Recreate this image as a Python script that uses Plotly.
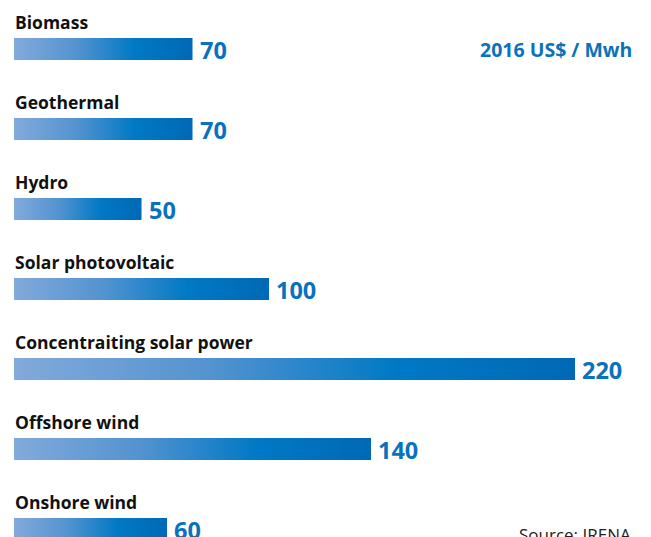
import plotly.graph_objects as go

categories = ["Biomass", "Geothermal", "Hydro", "Solar photovoltaic",
              "Concentraiting solar power", "Offshore wind", "Onshore wind"]
values = [70, 70, 50, 100, 220, 140, 60]
unit_label = "2016 US$ / Mwh"
source_label = "Source: IRENA"

BLUE = "#0a72bc"
grad = [[0, "#82aadb"], [0.35, "#5393d0"], [0.68, "#0079c4"], [1, "#0069b5"]]
half = 0.1375
FONT = "Open Sans"

fig = go.Figure()
for i, (c, v) in enumerate(zip(categories, values)):
    fig.add_trace(go.Scatter(
        x=[0, v, v, 0, 0],
        y=[i - half, i - half, i + half, i + half, i - half],
        mode="lines", fill="toself", line=dict(width=0),
        fillgradient=dict(type="horizontal", colorscale=grad),
        hoverinfo="skip", showlegend=False))
    fig.add_annotation(x=0, y=i - 0.34, text=f"<b>{c}</b>", showarrow=False,
                       xanchor="left", yanchor="middle", xshift=-1,
                       font=dict(family=FONT, size=17.5, color="#111111"))
    fig.add_annotation(x=v, y=i, text=f"<b>{v}</b>", showarrow=False,
                       xanchor="left", yanchor="middle", xshift=5, yshift=-1,
                       font=dict(family=FONT, size=23.5, color=BLUE))

fig.add_annotation(xref="paper", yref="paper", x=0.974, y=0.907,
                   text=f"<b>{unit_label}</b>", showarrow=False,
                   xanchor="right", yanchor="middle",
                   font=dict(family=FONT, size=19.5, color=BLUE))
fig.add_annotation(xref="paper", yref="paper", x=0.972, y=0.004,
                   text=source_label, showarrow=False,
                   xanchor="right", yanchor="middle",
                   font=dict(family=FONT, size=17, color="#222222"))

fig.update_layout(
    width=651, height=537, margin=dict(l=0, r=0, t=0, b=0),
    paper_bgcolor="white", plot_bgcolor="white",
    xaxis=dict(range=[-14 / 2.55, 637 / 2.55], visible=False, fixedrange=True),
    yaxis=dict(range=[6.1, -0.6125], visible=False, fixedrange=True),
)
fig.write_html("out.html")
